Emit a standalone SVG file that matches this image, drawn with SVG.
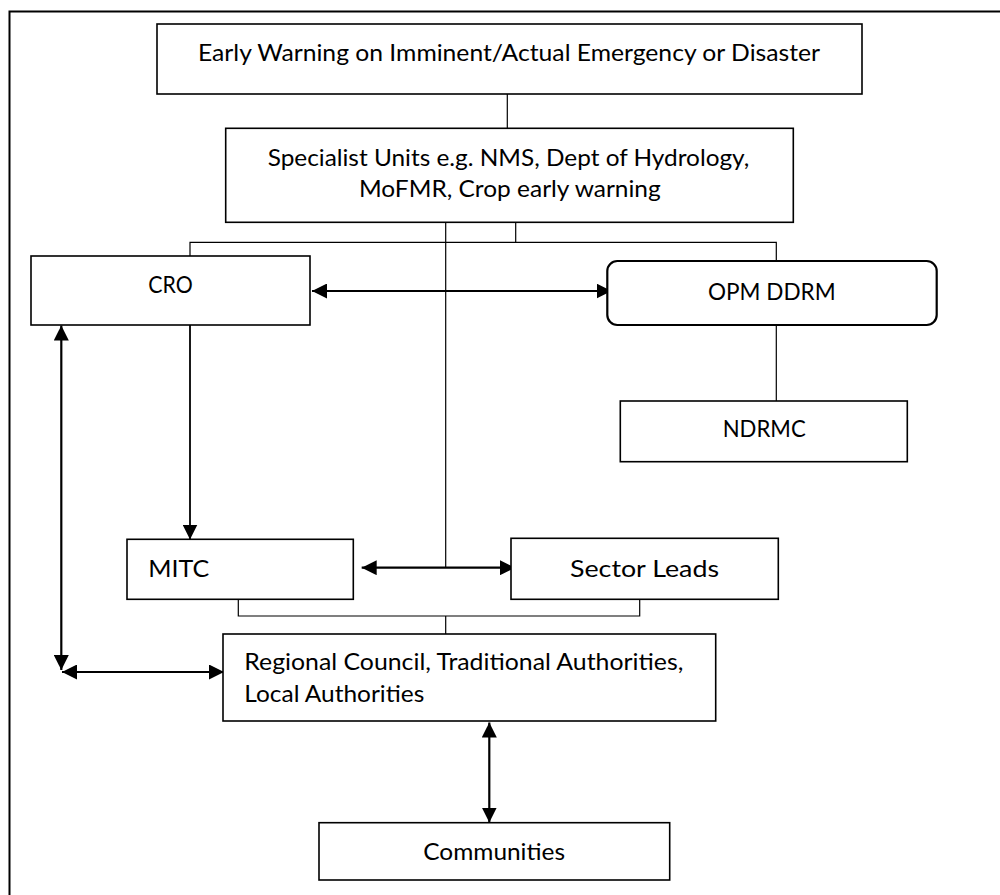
<svg xmlns="http://www.w3.org/2000/svg" width="1000" height="895" viewBox="0 0 1000 895">
<style>
.box{fill:#fff;stroke:#000;stroke-width:1.6}
.rbox{fill:#fff;stroke:#000;stroke-width:2.2}
.t{font-family:Lato,"Open Sans","Liberation Sans",sans-serif;font-size:24px;fill:#000}
.thin{fill:none;stroke:#000;stroke-width:1.2}
.arr{fill:none;stroke:#000;stroke-width:2.2}
.arr1{fill:none;stroke:#000;stroke-width:1.8}
</style>
<defs>
<marker id="ah" markerUnits="userSpaceOnUse" markerWidth="16" markerHeight="15" refX="15" refY="7.5" orient="auto-start-reverse">
<path d="M0,0 L15,7.5 L0,15 z" fill="#000"/>
</marker>
</defs>
<rect width="1000" height="895" fill="#fff"/>
<path d="M9.5,895 V11.5 H1000" fill="none" stroke="#000" stroke-width="2"/>
<g id="connectors">
<line class="thin" x1="507.3" y1="94" x2="507.3" y2="128"/>
<line class="thin" x1="515.7" y1="222" x2="515.7" y2="242.3"/>
<polyline class="thin" points="190,256 190,242.3 776.3,242.3 776.3,261"/>
<line class="thin" x1="445.7" y1="222" x2="445.7" y2="568"/>
<line class="thin" x1="776.3" y1="325" x2="776.3" y2="401"/>
<polyline class="thin" points="238.3,598 238.3,616 639.7,616 639.7,598"/>
<line class="thin" x1="445.7" y1="616" x2="445.7" y2="634"/>
<line class="arr" x1="312" y1="291" x2="611.5" y2="291" marker-start="url(#ah)" marker-end="url(#ah)"/>
<line class="arr1" x1="190" y1="325" x2="190" y2="539.5" marker-end="url(#ah)"/>
<line class="arr" x1="61.3" y1="325.5" x2="61.3" y2="670" marker-start="url(#ah)" marker-end="url(#ah)"/>
<line class="arr" x1="62" y1="672" x2="224" y2="672" marker-start="url(#ah)" marker-end="url(#ah)"/>
<line class="arr" x1="361.7" y1="567.7" x2="515" y2="567.7" marker-start="url(#ah)" marker-end="url(#ah)"/>
<line class="arr" x1="489.3" y1="722.5" x2="489.3" y2="822.5" marker-start="url(#ah)" marker-end="url(#ah)"/>
</g>
<g id="early-warning">
<rect class="box" x="157" y="24" width="705" height="70"/>
<text class="t" x="198" y="61" textLength="622" lengthAdjust="spacingAndGlyphs">Early Warning on Imminent/Actual Emergency or Disaster</text>
</g>
<g id="specialist-units">
<rect class="box" x="225.7" y="128.3" width="567.6" height="94"/>
<text class="t" x="267.7" y="165.7" textLength="481.6" lengthAdjust="spacingAndGlyphs">Specialist Units e.g. NMS, Dept of Hydrology,</text>
<text class="t" x="359" y="196.7" textLength="301.7" lengthAdjust="spacingAndGlyphs">MoFMR, Crop early warning</text>
</g>
<g id="cro">
<rect class="box" x="31" y="256" width="279" height="69"/>
<text class="t" x="148.3" y="293.3" textLength="44.4" lengthAdjust="spacingAndGlyphs">CRO</text>
</g>
<g id="opm-ddrm">
<rect class="rbox" x="607.3" y="261" width="329.4" height="64" rx="10" ry="10"/>
<text class="t" x="708" y="300" textLength="127.7" lengthAdjust="spacingAndGlyphs">OPM DDRM</text>
</g>
<g id="ndrmc">
<rect class="box" x="620.3" y="401" width="287" height="60.7"/>
<text class="t" x="722.7" y="436.7" textLength="83" lengthAdjust="spacingAndGlyphs">NDRMC</text>
</g>
<g id="mitc">
<rect class="box" x="127" y="539.3" width="226.3" height="60"/>
<text class="t" x="148.3" y="577" textLength="61" lengthAdjust="spacingAndGlyphs">MITC</text>
</g>
<g id="sector-leads">
<rect class="box" x="511" y="538.3" width="267.3" height="61"/>
<text class="t" x="570" y="577" textLength="149" lengthAdjust="spacingAndGlyphs">Sector Leads</text>
</g>
<g id="regional-council">
<rect class="box" x="223" y="634" width="492.7" height="87"/>
<text class="t" x="244.3" y="670" textLength="439" lengthAdjust="spacingAndGlyphs">Regional Council, Traditional Authorities,</text>
<text class="t" x="244.3" y="701.7" textLength="180" lengthAdjust="spacingAndGlyphs">Local Authorities</text>
</g>
<g id="communities">
<rect class="box" x="319" y="822.7" width="350.7" height="57.3"/>
<text class="t" x="423.3" y="860" textLength="141.7" lengthAdjust="spacingAndGlyphs">Communities</text>
</g>
</svg>
